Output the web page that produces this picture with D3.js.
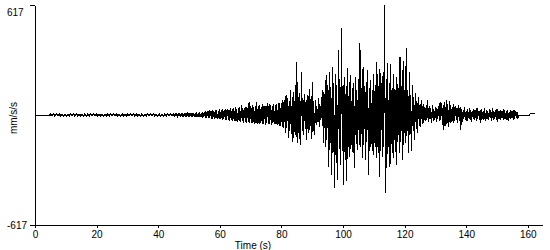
<!DOCTYPE html>
<html><head><meta charset="utf-8">
<script src="https://cdn.jsdelivr.net/npm/d3@7"></script>
<style>
body{margin:0;background:#fff}
svg{display:block}
text{font-family:"Liberation Sans",Arial,sans-serif;font-size:10px;fill:#000}
</style>
</head><body>
<svg id="c" width="550" height="250"></svg>
<script>
// ---- data (mm/s/s), alternating peak / trough samples every 0.25 s ----
const sampleStep = 0.25;
const yLimit = 617;
const xTicks = [0, 20, 40, 60, 80, 100, 120, 140, 160];
const yTicks = [-617, 617];
const xLabel = "Time (s)";
const yLabel = "mm/s/s";

const preEvent = [0,0,0,0,0,0,0,0,0,0,0,0,0,0,0,0,0,0,0,0];            // starts 0 s
const background = [                                                    // starts 5 s
4,-4, 5,-4, 4,-5, 4,-4, 5,-4, 4,-4, 4,-5, 5,-5, 4,-4, 4,-4,
4,-5, 4,-4, 5,-4, 4,-4, 4,-4, 5,-5, 4,-4, 4,-4, 5,-4, 4,-4,
4,-4, 4,-5, 5,-4, 4,-4, 4,-4, 4,-5, 5,-4, 4,-4, 4,-4, 5,-4,
4,-5, 4,-4, 4,-4, 5,-4, 4,-5, 4,-4, 5,-4, 4,-4, 4,-5, 5,-4,
4,-4, 5,-4, 4,-5, 4,-4, 5,-4, 4,-4, 4,-5, 5,-4, 4,-4, 4,-4,
5,-5, 4,-4, 4,-4, 5,-4, 4,-5, 4,-4, 5,-4, 4,-4, 4,-5, 5,-4,
4,-4, 4,-4, 5,-5, 4,-4, 4,-4, 5,-4, 4,-4, 4,-5, 5,-4, 4,-4,
4,-4, 5,-5, 4,-4, 4,-4, 5,-4, 4,-5, 4,-4, 5,-4, 4,-4, 5,-5];
const onset = [                                                         // starts 45 s
6,-6, 7,-6, 6,-7, 8,-6, 7,-8, 11,-9, 13,-11, 10,-12, 12,-9, 8,-8,
9,-10, 11,-8, 10,-11, 13,-10, 11,-12, 14,-11, 12,-13, 15,-12, 13,-14, 17,-13,
18,-15, 22,-17, 20,-19, 25,-18, 22,-21, 28,-20, 24,-22, 30,-19, 26,-24, 22,-20,
31,-23, 27,-26, 33,-22, 29,-27, 32,-28, 36,-30, 30,-33, 40,-29, 34,-35, 38,-31,
42,-36, 35,-40, 39,-33, 45,-38, 56,-35, 40,-42, 37,-39, 44,-45, 41,-37, 73,-44,
48,-42, 55,-47, 45,-51, 52,-44, 73,-49, 50,-53, 58,-45, 47,-50, 61,-48, 53,-55,
49,-46, 67,-52, 62,-49, 55,-56, 51,-47, 59,-53, 57,-50, 62,-58, 70,-64, 66,-60,
68,-67, 84,-75];
const strongMotion = [                                                  // starts 81 s
84,-101, 112,-73, 95,-129, 78,-90, 140,-106, 101,-151, 129,-95, 168,-123, 297,-157,
101,-135, 123,-168, 241,-90, 95,-112, 118,-78, 84,-140, 112,-101, 146,-84, 90,-134, 185,-95, 78,-112,
84,-56, 50,-39, 95,-67, 62,-28, 101,-62,
140,-157, 118,-180, 224,-140, 168,-292, 241,-196, 157,-337, 269,-213, 180,-410, 230,-270,
168,-365, 365,-190, 202,-280, 488,-200, 170,-392, 213,-250, 160,-370, 264,-180,
185,-236, 224,-170, 150,-213, 180,-297, 213,-160, 140,-196,
202,-168, 404,-180, 150,-240, 269,-170, 160,-252, 185,-150, 252,-337,
150,-202, 196,-160, 140,-224, 230,-157, 170,-241, 297,-180, 160,-348, 258,-200, 180,-236,
240,-180, 617,-438, 200,-300, 292,-180, 180,-292, 286,-160, 150,-241, 230,-140, 140,-280, 213,-150,
151,-213, 325,-150, 160,-252, 303,-168, 140,-157, 376,-120, 140,-213, 241,-110, 110,-202, 168,-90,
100,-140, 123,-80, 80,-101, 101,-60, 60,-67, 84,-50];
const coda = [                                                          // starts 126 s
62,-45, 45,-34, 56,-28, 84,-39, 50,-22, 39,-45, 56,-31, 34,-28, 45,-39, 39,-22,
50,-34, 73,-28, 67,-56, 56,-84, 73,-62, 84,-50, 62,-67, 78,-45, 56,-39, 45,-45,
62,-34, 50,-28, 39,-45, 56,-34, 45,-84, 34,-39, 28,-22, 45,-28, 22,-34, 34,-17,
39,-28, 28,-39, 22,-22, 34,-28, 28,-34, 39,-22, 22,-28, 28,-45, 34,-22, 22,-28,
39,-34, 28,-22, 22,-28, 34,-17, 28,-34, 39,-28, 22,-22, 28,-28, 34,-39, 22,-22,
28,-28, 22,-17, 34,-28, 28,-22, 22,-28, 28,-34, 17,-22, 28,-17, 22,-28, 28,-22,
22,-17, 17,-22];
const tail = [0,0,0,0,0,0,0,0,0,0,0,0,0,0,0, 6,6,6,6,6,6,6];       // starts 157 s

const segments = [
  {start: 0, values: preEvent},
  {start: 5, values: background},
  {start: 45, values: onset},
  {start: 81, values: strongMotion},
  {start: 126, values: coda},
  {start: 157, values: tail}
];
const points = [];
segments.forEach(s => s.values.forEach((v, i) => points.push([s.start + i * sampleStep, v])));

// ---- chart ----
const svg = d3.select("#c");
const x = d3.scaleLinear().domain([0, 164.6]).range([35, 542]);
const y = d3.scaleLinear().domain([-yLimit, yLimit]).range([225, 5]);
const fmt = d => String(d);

const line = d3.line().x(d => x(d[0])).y(d => y(d[1]));
svg.append("path").datum(points)
  .attr("d", line)
  .attr("fill", "none")
  .attr("stroke", "#000")
  .attr("stroke-width", 1)
  .attr("shape-rendering", "crispEdges");

const gx = svg.append("g").attr("transform", "translate(0,225)")
  .call(d3.axisBottom(x).tickValues(xTicks).tickSize(3).tickSizeOuter(0).tickFormat(fmt));
gx.selectAll("path,line").attr("stroke", "#000").attr("shape-rendering", "crispEdges");
gx.attr("font-family", null).attr("font-size", null);
gx.selectAll("text").attr("y", 6).attr("dy", "0.71em");

const gy = svg.append("g").attr("transform", "translate(35,0)")
  .call(d3.axisLeft(y).tickValues(yTicks).tickSize(5).tickSizeOuter(0).tickFormat(fmt));
gy.selectAll("path,line").attr("stroke", "#000").attr("shape-rendering", "crispEdges");
gy.attr("font-family", null).attr("font-size", null);
gy.selectAll("text")
  .attr("text-anchor", "start").attr("x", -28)
  .attr("dy", d => d > 0 ? "1.05em" : "0.35em");

svg.append("text").attr("x", 253).attr("y", 249).attr("text-anchor", "middle").text(xLabel);
svg.append("text").attr("transform", "translate(17,118) rotate(-90)").attr("text-anchor", "middle").text(yLabel);
</script>
</body></html>
